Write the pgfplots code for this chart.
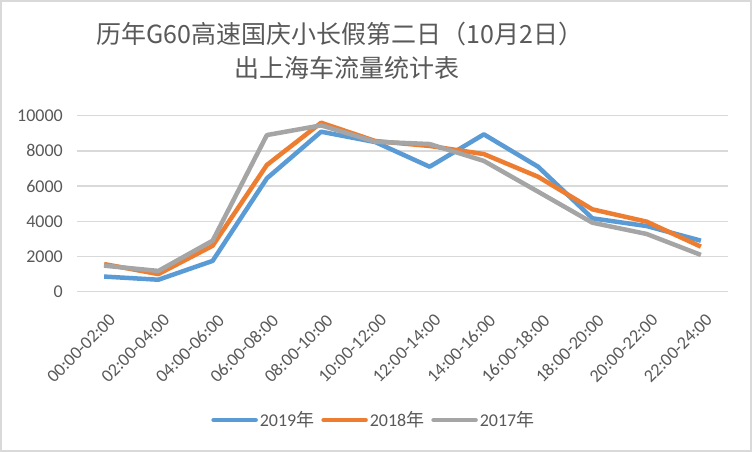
\documentclass[border=0pt]{standalone}
\usepackage{pgfplots}
\pgfplotsset{compat=1.18}
\usepackage{fontspec}
\setmainfont{Carlito}
\newfontfamily\cjk{Noto Sans CJK SC}
\definecolor{cblue}{HTML}{5B9BD5}
\definecolor{corange}{HTML}{ED7D31}
\definecolor{cgray}{HTML}{A5A5A5}
\definecolor{cgrid}{HTML}{D9D9D9}
\definecolor{ctext}{HTML}{595959}
\begin{document}
\begin{tikzpicture}[x=1pt,y=1pt]
\useasboundingbox (0,0) rectangle (752,452);
\fill[white] (0,0) rectangle (752,452);
\draw[cgrid, line width=1.5pt] (1,1) rectangle (751,451);
\node[text=ctext, font=\cjk\fontsize{25}{30}\selectfont] at (340,417.5) {历年G60高速国庆小长假第二日（10月2日）};
\node[text=ctext, font=\cjk\fontsize{25}{30}\selectfont] at (347,384.5) {出上海车流量统计表};
\begin{axis}[
  at={(77pt,160.3pt)}, anchor=south west,
  scale only axis, width=651pt, height=176pt,
  xmin=-0.5, xmax=11.5, ymin=0, ymax=10000,
  axis line style={draw=none},
  ytick={0,2000,...,10000},
  scaled y ticks=false,
  xtick={0,...,11},
  xticklabels={00:00-02:00,02:00-04:00,04:00-06:00,06:00-08:00,08:00-10:00,10:00-12:00,12:00-14:00,14:00-16:00,16:00-18:00,18:00-20:00,20:00-22:00,22:00-24:00},
  major tick length=0pt,
  ymajorgrids, grid style={cgrid, line width=1.3pt},
  /pgf/number format/assume math mode=true,
  /pgf/number format/1000 sep={},
  tick label style={text=ctext, font=\fontsize{18}{21}\selectfont},
  yticklabel style={anchor=east, inner sep=0pt, xshift=-14pt},
  xticklabel style={xshift=4pt, yshift=-21pt, anchor=north east, rotate=45, inner sep=0pt},
  legend style={at={(0.456,-0.729)}, anchor=center, draw=none, fill=none,
    font=\fontsize{18}{21}\selectfont, text=ctext,
    legend columns=3, /tikz/every even column/.append style={column sep=5pt}},
  legend cell align=left,
  legend image code/.code={\draw[#1, line cap=round] (0pt,0pt) -- (42pt,0pt);},
  every axis plot/.append style={line width=4.5pt, line join=round},
]
\addplot[cblue] coordinates {(0,860) (1,680) (2,1750) (3,6440) (4,9090) (5,8500) (6,7100) (7,8940) (8,7100) (9,4170) (10,3730) (11,2900)};
\addplot[corange] coordinates {(0,1570) (1,1000) (2,2610) (3,7200) (4,9600) (5,8560) (6,8280) (7,7820) (8,6530) (9,4680) (10,3980) (11,2560)};
\addplot[cgray] coordinates {(0,1480) (1,1180) (2,2900) (3,8900) (4,9450) (5,8520) (6,8390) (7,7430) (8,5680) (9,3920) (10,3280) (11,2090)};
\legend{2019{\cjk 年},2018{\cjk 年},2017{\cjk 年}}
\end{axis}
\end{tikzpicture}
\end{document}
